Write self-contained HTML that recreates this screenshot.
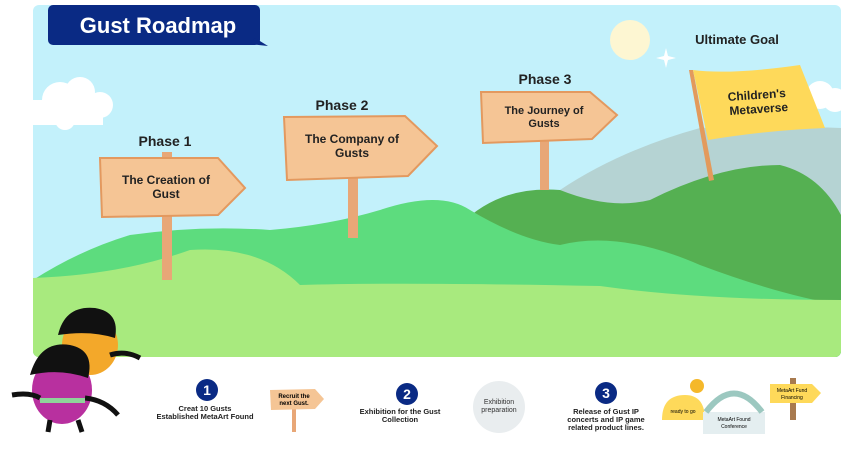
<!DOCTYPE html>
<html><head><meta charset="utf-8"><style>
body{margin:0;width:850px;height:454px;background:#fff;overflow:hidden;font-family:"Liberation Sans",sans-serif;}
svg{position:absolute;left:0;top:0}
text{font-family:"Liberation Sans",sans-serif}
</style></head><body>
<svg width="850" height="454" viewBox="0 0 850 454">
<defs><clipPath id="c"><rect x="33" y="5" width="808" height="352" rx="6"/></clipPath></defs>
<g clip-path="url(#c)">
<rect x="33" y="5" width="808" height="352" fill="#c3f1fb"/>
<circle cx="630" cy="40" r="20" fill="#fdf6d2"/>
<path d="M666 48 l2 8 l8 2 l-8 2 l-2 8 l-2 -8 l-8 -2 l8 -2z" fill="#fff"/>
<g fill="#fff"><circle cx="60" cy="100" r="18"/><circle cx="80" cy="92" r="15"/><circle cx="100" cy="105" r="13"/><circle cx="65" cy="120" r="10"/><rect x="33" y="100" width="70" height="25"/></g>
<g fill="#fff"><circle cx="820" cy="95" r="14"/><circle cx="835" cy="100" r="12"/></g>
<path d="M560 190 Q620 150 700 128 Q760 125 841 128 L841 357 L560 357Z" fill="#b5d3d3"/>
<path d="M460 225 Q500 185 560 190 Q610 210 650 200 Q720 165 780 165 Q820 175 841 215 L841 357 L460 357Z" fill="#55b052"/>
<path d="M33 280 Q80 250 130 235 Q200 225 270 230 Q330 225 380 210 Q440 190 470 210 Q520 240 560 245 Q620 230 700 265 Q780 295 841 305 L841 357 L33 357Z" fill="#5ddc7e"/>
<path d="M33 278 Q120 275 190 250 Q260 245 300 285 Q400 282 600 286 Q700 300 841 300 L841 357 L33 357Z" fill="#a8ea7e"/>
</g>
<rect x="48" y="5" width="212" height="40" rx="5" fill="#0a2a84"/>
<path d="M255 38 L268 46 L250 44Z" fill="#0a2a84"/>
<text x="158" y="33" font-size="22" font-weight="bold" fill="#fff" text-anchor="middle">Gust Roadmap</text>
<g fill="#e8a777"><rect x="162" y="152" width="10" height="128"/><rect x="348" y="175" width="10" height="63"/><rect x="540" y="138" width="9" height="52"/></g>
<g fill="#f5c595" stroke="#e3995f" stroke-width="2">
<path d="M100 158 L218 158 L245 188 L218 215 L102 217Z"/>
<path d="M284 117 L405 116 L437 146 L408 176 L287 180Z"/>
<path d="M481 92 L590 92 L617 115 L592 139 L483 143Z"/>
</g>
<g font-size="12" font-weight="bold" fill="#222" text-anchor="middle">
<text x="165" y="146" font-size="14">Phase 1</text>
<text x="166" y="184">The Creation of</text><text x="166" y="198">Gust</text>
<text x="342" y="110" font-size="14">Phase 2</text>
<text x="352" y="143">The Company of</text><text x="352" y="157">Gusts</text>
<text x="545" y="84" font-size="14">Phase 3</text>
<text x="544" y="114" font-size="11">The Journey of</text><text x="544" y="127" font-size="11">Gusts</text>
<text x="737" y="44" font-size="13">Ultimate Goal</text>
</g>
<path d="M689 70 L693 70 L714 180 L709 181Z" fill="#e39a5c"/>
<path d="M693 70 Q730 75 800 65 L825 128 Q770 130 708 140Z" fill="#fed95a"/>
<text x="757" y="99" font-size="12" font-weight="bold" fill="#222" text-anchor="middle" transform="rotate(-4 757 99)">Children's</text>
<text x="759" y="113" font-size="12" font-weight="bold" fill="#222" text-anchor="middle" transform="rotate(-4 759 113)">Metaverse</text>
<ellipse cx="90" cy="345" rx="28" ry="30" fill="#f3a82a"/>
<path d="M58 335 Q65 305 95 308 Q120 312 115 338 Q90 330 58 335Z" fill="#111"/>
<path d="M110 355 Q125 350 140 358" stroke="#111" stroke-width="5" fill="none"/>
<ellipse cx="62" cy="390" rx="30" ry="34" fill="#b8309f"/>
<path d="M30 375 Q40 340 70 345 Q95 350 88 378 Q60 368 30 375Z" fill="#111"/>
<path d="M12 395 Q30 392 40 398 M85 398 Q105 400 118 415 M50 420 L48 432 M78 420 L82 432" stroke="#111" stroke-width="5" fill="none"/>
<rect x="40" y="398" width="45" height="5" fill="#8fd39a"/>
<g fill="#0a2a84"><circle cx="207" cy="390" r="11"/><circle cx="407" cy="394" r="11"/><circle cx="606" cy="393" r="11"/></g>
<g fill="#fff" font-size="14" font-weight="bold" text-anchor="middle"><text x="207" y="395">1</text><text x="407" y="399">2</text><text x="606" y="398">3</text></g>
<g font-size="7.5" font-weight="bold" fill="#222" text-anchor="middle">
<text x="205" y="411">Creat 10 Gusts</text><text x="205" y="419">Established MetaArt Found</text>
<text x="400" y="414">Exhibition for the Gust</text><text x="400" y="422">Collection</text>
<text x="606" y="414">Release of Gust IP</text><text x="606" y="422">concerts and IP game</text><text x="606" y="430">related product lines.</text>
</g>
<rect x="292" y="408" width="4" height="24" fill="#e8a777"/>
<path d="M270 390 L315 389 L324 399 L315 409 L271 410Z" fill="#f5c595"/>
<text x="294" y="398" font-size="6" font-weight="bold" text-anchor="middle">Recruit the</text><text x="294" y="405" font-size="6" font-weight="bold" text-anchor="middle">next Gust.</text>
<circle cx="499" cy="407" r="26" fill="#e9edef"/>
<text x="499" y="404" font-size="7" text-anchor="middle" fill="#333">Exhibition</text><text x="499" y="412" font-size="7" text-anchor="middle" fill="#333">preparation</text>
<path d="M662 420 Q662 395 685 395 Q705 395 705 420Z" fill="#fed95a"/>
<circle cx="697" cy="386" r="7" fill="#f5b82a"/>
<text x="683" y="413" font-size="5" text-anchor="middle">ready to go</text>
<rect x="703" y="412" width="62" height="22" fill="#e4eef0"/>
<path d="M706 412 Q734 375 762 412" stroke="#9cc8c0" stroke-width="6" fill="none"/>
<text x="734" y="421" font-size="5" text-anchor="middle">MetaArt Found</text><text x="734" y="428" font-size="5" text-anchor="middle">Conference</text>
<rect x="790" y="378" width="6" height="42" fill="#a87a4f"/>
<path d="M770 384 L812 384 L821 393 L812 403 L770 403Z" fill="#fed95a"/>
<text x="792" y="392" font-size="5" text-anchor="middle">MetaArt Fund</text><text x="792" y="399" font-size="5" text-anchor="middle">Financing</text>
</svg>
</body></html>
